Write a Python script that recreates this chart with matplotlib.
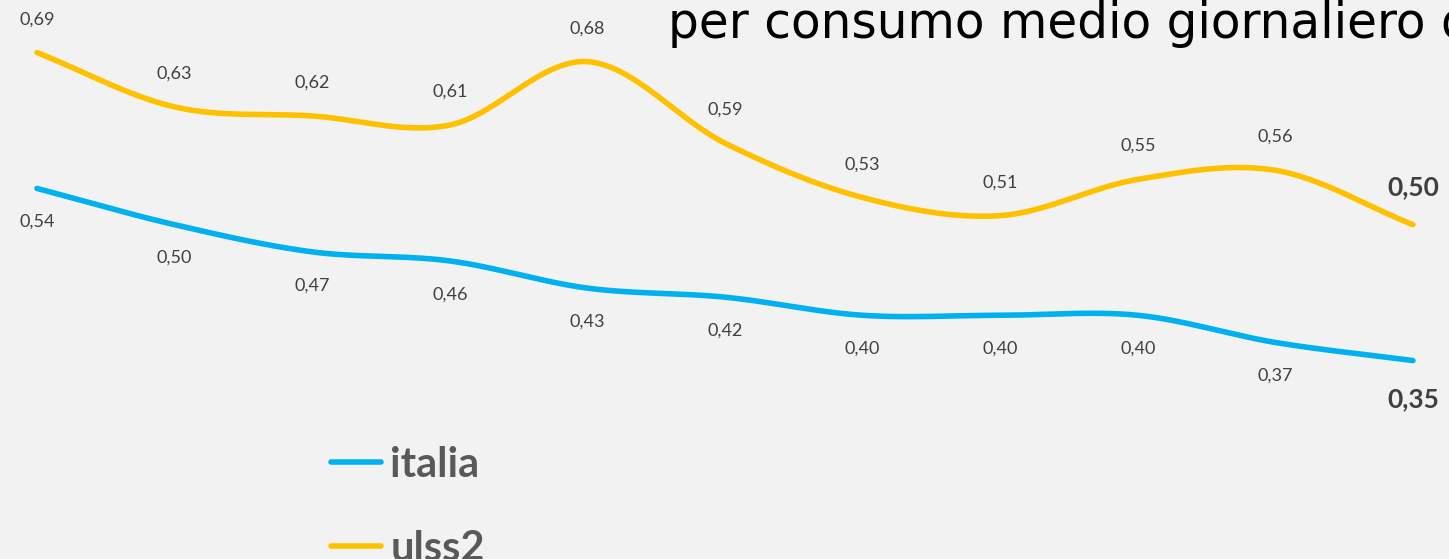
import matplotlib.pyplot as plt
import numpy as np

# dati
anni = list(range(11))
italia = [0.54, 0.50, 0.47, 0.46, 0.43, 0.42, 0.40, 0.40, 0.40, 0.37, 0.35]
ulss2 = [0.69, 0.63, 0.62, 0.61, 0.68, 0.59, 0.53, 0.51, 0.55, 0.56, 0.50]
titolo = 'per consumo medio giornaliero d'

c_italia = '#00B0F0'
c_ulss2 = '#FFC000'
c_testo = '#404040'
sfondo = '#F2F2F2'


def smooth(x, y, n=30):
    # curva tipo "linea smussata" di Excel (Catmull-Rom)
    p = np.column_stack([x, y]).astype(float)
    p = np.vstack([2 * p[0] - p[1], p, 2 * p[-1] - p[-2]])
    out = []
    t = np.linspace(0, 1, n, endpoint=False)[:, None]
    for i in range(1, len(p) - 2):
        p0, p1, p2, p3 = p[i - 1], p[i], p[i + 1], p[i + 2]
        seg = 0.5 * ((2 * p1) + (-p0 + p2) * t + (2 * p0 - 5 * p1 + 4 * p2 - p3) * t ** 2
                     + (-p0 + 3 * p1 - 3 * p2 + p3) * t ** 3)
        out.append(seg)
    out.append(p[-2][None, :])
    out = np.vstack(out)
    return out[:, 0], out[:, 1]


fig = plt.figure(figsize=(14.49, 5.59), dpi=100, facecolor=sfondo)
ax = fig.add_axes([0, 0, 1, 1])
ax.set_facecolor(sfondo)
ax.axis('off')
ax.set_xlim(-0.269, 10.262)
ax.set_ylim(0.131, 0.748)

xs, ys = smooth(anni, italia)
ax.plot(xs, ys, color=c_italia, lw=4, solid_capstyle='round', label='italia')
xs, ys = smooth(anni, ulss2)
ax.plot(xs, ys, color=c_ulss2, lw=4, solid_capstyle='round', label='ulss2')

for i, (a, b) in enumerate(zip(italia, ulss2)):
    last = i == len(anni) - 1
    kw = dict(ha='center', va='center', family=['Lato', 'DejaVu Sans'],
              color=c_testo, textcoords='offset points')
    if last:
        kw.update(fontsize=19, fontweight='bold')
        off_a, off_b = 28, 27
    else:
        kw.update(fontsize=13)
        off_a = off_b = 24
    ax.annotate(f'{a:.2f}'.replace('.', ','), (i, a), xytext=(0, -off_a), **kw)
    ax.annotate(f'{b:.2f}'.replace('.', ','), (i, b), xytext=(0, off_b), **kw)

fig.text(668 / 1449, 1 - 38 / 559, titolo, fontsize=35, color='black',
         family='DejaVu Sans', va='baseline', ha='left')

leg = ax.legend(loc='upper left', bbox_to_anchor=(331 / 1449, 1 - 446 / 559),
                bbox_transform=fig.transFigure, frameon=False,
                prop=dict(family='Lato', weight='bold', size=30),
                labelcolor='#595959', handlelength=1.2, handletextpad=0.22,
                labelspacing=1.1, borderpad=0, borderaxespad=0)

fig.savefig('out.png', dpi=100, facecolor=sfondo)
